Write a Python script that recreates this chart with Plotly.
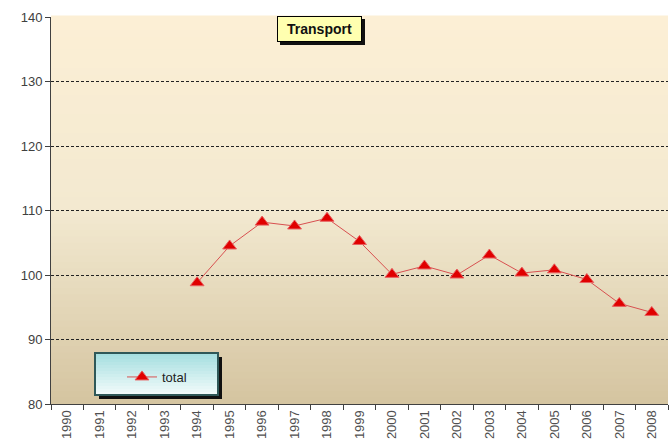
import plotly.graph_objects as go

years = [str(y) for y in range(1990, 2009)]
total = [None, None, None, None, 98.8, 104.5, 108.2, 107.6, 108.8, 105.2,
         100.1, 101.4, 100.0, 103.1, 100.3, 100.8, 99.3, 95.6, 94.2]
series_name = "total"
chart_title = "Transport"
y_ticks = [80, 90, 100, 110, 120, 130, 140]

W, H = 672, 445
L, R, T, B = 51, 4, 17, 41
pw, ph = W - L - R, H - T - B

def px_x(p):
    return (p - L) / pw

def px_y(p):
    return (H - B - p) / ph

def lerp(c1, c2, t):
    return "rgb(%d,%d,%d)" % tuple(round(a + (b - a) * t) for a, b in zip(c1, c2))

fig = go.Figure()
fig.add_trace(go.Scatter(
    x=years, y=total, mode="lines+markers", name=series_name,
    line=dict(color="#D85050", width=1),
    marker=dict(symbol="triangle-up", size=12, color="#E00000",
                line=dict(color="#E86060", width=1)),
    connectgaps=False,
))

shapes = []
# plot-area gradient background
top_c, mid_c, bot_c = (252, 239, 213), (243, 233, 208), (212, 196, 160)
n = 60
for i in range(n):
    t0, t1 = i / n, (i + 1) / n
    tm = (t0 + t1) / 2
    if tm > 0.5:
        col = lerp(mid_c, top_c, (tm - 0.5) / 0.5)
    else:
        col = lerp(bot_c, mid_c, tm / 0.5)
    shapes.append(dict(type="rect", xref="x domain", yref="y domain",
                       x0=0, x1=1, y0=t0, y1=t1 + 0.004, layer="below",
                       line=dict(width=0), fillcolor=col))

# title box shadow
tx0, tx1, ty0, ty1 = 277, 362, 16, 42
shapes.append(dict(type="rect", xref="paper", yref="paper",
                   x0=px_x(tx0 + 3), x1=px_x(tx1 + 3), y0=px_y(ty1 + 3), y1=px_y(ty0 + 3),
                   fillcolor="#111111", line=dict(width=0), layer="above"))

# legend box shadow + gradient + border
lx0, lx1, ly0, ly1 = 95, 218, 353, 395
shapes.append(dict(type="rect", xref="paper", yref="paper",
                   x0=px_x(lx0 + 4), x1=px_x(lx1 + 4), y0=px_y(ly1 + 4), y1=px_y(ly0 + 4),
                   fillcolor="#101010", line=dict(width=0), layer="above"))
ltop, lbot = (166, 223, 224), (240, 250, 250)
m = 14
step = (ly1 - ly0) / m
for i in range(m):
    a = ly0 + step * i
    b = a + step + 1.0
    shapes.append(dict(type="rect", xref="paper", yref="paper",
                       x0=px_x(lx0), x1=px_x(lx1), y0=px_y(min(b, ly1)), y1=px_y(a),
                       fillcolor=lerp(ltop, lbot, i / (m - 1)), line=dict(width=0),
                       layer="above"))
shapes.append(dict(type="rect", xref="paper", yref="paper",
                   x0=px_x(lx0), x1=px_x(lx1), y0=px_y(ly1), y1=px_y(ly0),
                   fillcolor="rgba(0,0,0,0)", line=dict(color="#2F5858", width=2),
                   layer="above"))

fig.update_layout(
    width=W, height=H,
    margin=dict(l=L, r=R, t=T, b=B, autoexpand=False),
    paper_bgcolor="white", plot_bgcolor="rgba(0,0,0,0)",
    showlegend=True,
    legend=dict(x=px_x(122), y=px_y(362), xanchor="left", yanchor="top",
                bgcolor="rgba(0,0,0,0)", borderwidth=0,
                font=dict(family="Liberation Sans, Arial", size=13, color="#222222"),
                itemwidth=30, tracegroupgap=0),
    shapes=shapes,
    annotations=[dict(text="<b>" + chart_title + "</b>", xref="paper", yref="paper",
                      x=px_x((tx0 + tx1) / 2), y=px_y((ty0 + ty1) / 2),
                      xanchor="center", yanchor="middle",
                      width=tx1 - tx0 - 6, height=ty1 - ty0 - 6,
                      showarrow=False, bgcolor="#FFFFB0", bordercolor="#000000",
                      borderwidth=1, borderpad=2,
                      font=dict(family="Liberation Sans, Arial", size=14, color="#111111"))],
)

fig.update_xaxes(
    type="category", categoryorder="array", categoryarray=years,
    range=[-0.5, len(years) - 0.5],
    tickson="boundaries", ticks="outside", ticklen=5, tickcolor="#404040",
    tickangle=-90, showgrid=False, showline=True, linecolor="#404040", linewidth=1,
    tickfont=dict(family="Liberation Sans, Arial", size=13, color="#505050"),
    fixedrange=True,
)
fig.update_yaxes(
    range=[80, 140], tickvals=y_ticks, ticks="outside", ticklen=5, tickcolor="#404040",
    showgrid=True, gridcolor="#222222", griddash="3px,2px", gridwidth=1,
    showline=True, linecolor="#404040", linewidth=1, zeroline=False,
    tickfont=dict(family="Liberation Sans, Arial", size=13, color="#404040"),
    fixedrange=True,
)

fig.write_html("out.html", config={"displayModeBar": False},
               post_script="document.body.style.margin='0';")
